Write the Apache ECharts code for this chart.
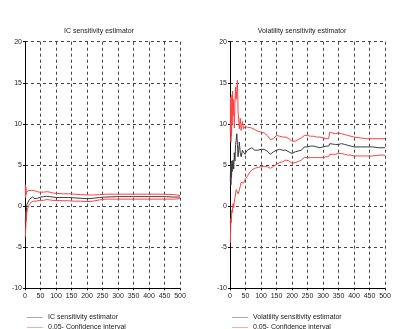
<!DOCTYPE html>
<html>
<head>
<meta charset="utf-8">
<script src="https://cdn.jsdelivr.net/npm/echarts@6/dist/echarts.min.js"></script>
<style>
html,body{margin:0;padding:0;background:#fff;}
#main{width:410px;height:329px;}
</style>
</head>
<body>
<div id="main"></div>
<script>
// IC sensitivity panel (left)
var icX   = [1,2,3,4,5,6,8,10,12,14,16,18,20,24,28,32,36,40,45,50,60,70,80,90,100,120,140,160,180,200,220,240,260,300,350,400,450,480,500];
var icMid = [-2.1,-0.6,-1.8,-0.8,-0.2,0.2,0.4,0.5,0.7,0.8,0.9,0.8,0.95,1.1,1.05,0.9,1.0,0.95,1.05,1.1,1.15,1.2,1.15,1.1,1.05,1.05,1.05,1.0,0.95,0.9,0.95,1.05,1.1,1.15,1.15,1.15,1.15,1.1,1.1];
var icUp  = [2.6,1.0,2.3,1.4,1.7,1.5,1.8,1.6,1.9,1.8,2.0,1.8,1.9,2.0,1.9,1.7,1.8,1.7,1.7,1.75,1.7,1.75,1.7,1.6,1.55,1.5,1.5,1.45,1.4,1.35,1.35,1.4,1.45,1.45,1.45,1.45,1.45,1.4,1.3];
var icLow = [-3.8,-3.0,-2.2,-1.6,-1.2,-0.8,-0.4,-0.2,0.1,0.2,0.3,0.3,0.5,0.6,0.6,0.5,0.6,0.6,0.7,0.75,0.7,0.8,0.75,0.7,0.7,0.65,0.65,0.6,0.6,0.55,0.6,0.75,0.85,0.85,0.85,0.85,0.85,0.85,0.9];

// Volatility sensitivity panel (right)
var volX   = [1,2,3,4,5,6,7,8,10,12,14,16,18,20,22,24,26,28,30,33,36,40,44,48,52,56,60,70,80,90,100,110,120,130,135,140,150,160,170,180,190,200,205,210,220,230,240,250,260,270,280,290,300,310,318,322,330,340,350,360,370,380,390,400,420,440,460,480,500];
var volMid = [3.0,5.2,2.6,4.8,3.5,5.5,4.2,5.0,5.6,4.5,6.5,5.5,7.5,8.0,8.8,7.5,6.0,6.8,7.8,6.5,6.0,6.8,7.0,6.3,6.2,6.8,7.0,7.1,6.8,6.8,6.9,6.9,6.7,6.3,6.2,6.6,6.8,6.9,6.8,6.8,6.6,6.4,6.4,6.6,6.7,6.8,7.2,7.2,7.3,7.3,7.2,7.1,7.2,7.3,7.3,7.6,7.55,7.5,7.5,7.6,7.5,7.4,7.3,7.2,7.2,7.2,7.2,7.1,7.1];
var volUp  = [9.0,13.3,7.8,12.0,8.5,13.5,10.0,14.0,11.0,13.0,9.5,12.5,14.5,13.0,14.2,15.3,11.5,10.5,9.4,10.7,9.2,10.3,9.4,9.7,9.9,9.6,9.7,9.5,9.3,9.1,9.0,8.9,8.6,8.1,7.9,8.2,8.6,8.5,8.4,8.4,8.2,7.9,7.8,7.9,8.1,8.3,8.6,8.6,8.5,8.5,8.4,8.4,8.3,8.2,8.2,9.0,8.9,8.8,8.9,8.8,8.7,8.6,8.5,8.4,8.3,8.2,8.2,8.2,8.2];
var volLow = [-4.5,-3.0,-1.5,-2.0,-1.2,-0.5,-0.8,-1.0,0.3,-0.2,0.6,1.0,1.6,2.0,2.2,1.8,1.5,1.4,1.9,2.4,2.9,3.0,2.8,3.2,3.3,3.6,3.9,4.4,4.6,4.7,4.8,4.8,4.8,4.6,4.5,4.8,5.1,5.3,5.4,5.6,5.5,5.2,5.1,5.3,5.4,5.6,5.9,5.9,5.9,5.9,5.9,5.9,5.9,6.0,6.0,6.3,6.3,6.3,6.4,6.4,6.3,6.2,6.2,6.1,6.1,6.1,6.1,6.2,6.2];

var xMin = 0, xMax = 500, xStep = 50;
var yMin = -10, yMax = 20, yStep = 5;

var font = 'Liberation Sans';
var ink = '#222';
var redLine = '#ff4040', blackLine = '#3a3a3a';

function pairs(xs, ys){
	var out = [];
	for (var i = 0; i < xs.length; i++) out.push([xs[i], ys[i]]);
	return out;
}

function xAxisFor(idx){
	return {
		type:'value', gridIndex:idx, min:xMin, max:xMax, interval:xStep,
		axisLine:{show:true, onZero:false, lineStyle:{color:'#000', width:1}},
		axisTick:{show:true, length:2, lineStyle:{color:'#000'}},
		axisLabel:{color:ink, fontSize:7, fontFamily:font, margin:4},
		splitLine:{show:true, lineStyle:{color:'#444', type:[3,3], width:1}}
	};
}
function yAxisFor(idx){
	return {
		type:'value', gridIndex:idx, min:yMin, max:yMax, interval:yStep,
		axisLine:{show:true, onZero:false, lineStyle:{color:'#000', width:1}},
		axisTick:{show:true, length:2, lineStyle:{color:'#000'}},
		axisLabel:{color:ink, fontSize:7, fontFamily:font, margin:3},
		splitLine:{show:true, lineStyle:{color:'#444', type:[3,3], width:1}}
	};
}
function line(name, idx, xs, ys, color){
	return {
		name:name, type:'line', xAxisIndex:idx, yAxisIndex:idx,
		data:pairs(xs, ys), showSymbol:false, symbol:'none', animation:false,
		lineStyle:{color:color, width:1}, itemStyle:{color:color}
	};
}

var ciName = '0.05- Confidence interval';
var legendText = {color:ink, fontSize:7, fontFamily:font};

var option = {
	animation:false,
	title:[
		{text:'IC sensitivity estimator', left:99, top:28, textAlign:'center', padding:0,
		 textStyle:{color:ink, fontSize:7, fontWeight:'normal', fontFamily:font}},
		{text:'Volatility sensitivity estimator', left:302, top:28, textAlign:'center', padding:0,
		 textStyle:{color:ink, fontSize:7, fontWeight:'normal', fontFamily:font}}
	],
	grid:[
		{left:25, top:41.7, width:155, height:246.6},
		{left:230, top:41.7, width:155, height:246.6}
	],
	xAxis:[xAxisFor(0), xAxisFor(1)],
	yAxis:[yAxisFor(0), yAxisFor(1)],
	legend:[
		{orient:'vertical', left:27, top:314, height:30, padding:0, itemWidth:16, itemHeight:1, itemGap:3,
		 icon:'rect', textStyle:legendText, selectedMode:false,
		 data:[{name:'IC sensitivity estimator', itemStyle:{color:'#aaa'}},
		       {name:ciName, itemStyle:{color:'#ffaaaa'}}]},
		{orient:'vertical', left:232, top:314, height:30, padding:0, itemWidth:16, itemHeight:1, itemGap:3,
		 icon:'rect', textStyle:legendText, selectedMode:false,
		 data:[{name:'Volatility sensitivity estimator', itemStyle:{color:'#aaa'}},
		       {name:ciName, itemStyle:{color:'#ffaaaa'}}]}
	],
	series:[
		line('IC sensitivity estimator', 0, icX, icMid, blackLine),
		line(ciName, 0, icX, icUp, redLine),
		line(ciName, 0, icX, icLow, redLine),
		line('Volatility sensitivity estimator', 1, volX, volMid, blackLine),
		line(ciName, 1, volX, volUp, redLine),
		line(ciName, 1, volX, volLow, redLine)
	]
};

var myChart = echarts.init(document.getElementById('main'));
myChart.setOption(option);
</script>
</body>
</html>
